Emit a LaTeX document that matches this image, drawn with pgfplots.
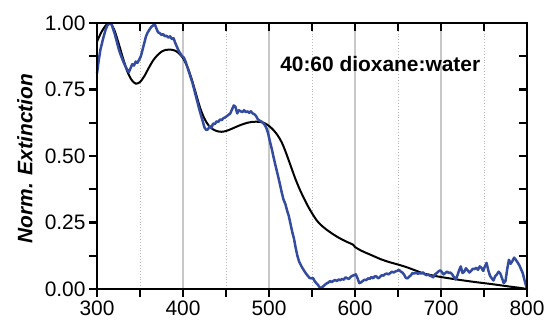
\documentclass[border=0pt]{standalone}
\usepackage{pgfplots}
\pgfplotsset{compat=1.18}
\usepackage{fontspec}
\setmainfont{Liberation Sans}
\definecolor{specblue}{RGB}{52,76,160}
\definecolor{gridgray}{RGB}{200,200,200}
\begin{document}
\begin{tikzpicture}
\begin{axis}[
  scale only axis, width=430bp, height=266bp,
  xmin=300, xmax=800, ymin=0, ymax=1,
  clip=false,
  xtick={300,400,...,800}, minor xtick={350,450,...,750},
  ytick={0,0.25,0.5,0.75,1}, minor ytick={0.125,0.375,0.625,0.875},
  xtick align=outside, ytick align=outside,
  xtick pos=bottom, ytick pos=left,
  major tick length=8bp, minor tick length=8bp,
  major tick style={draw=black, line width=2.4bp},
  minor tick style={draw=black, line width=2.4bp},
  axis line style={draw=black, line width=2.4bp},
  at={(0,0)}, anchor=south west,
  xmajorgrids, xminorgrids,
  major grid style={line width=1.2bp, gridgray, solid},
  minor grid style={line width=0.9bp, gray!55, dotted},
  /pgf/number format/assume math mode=true,
  ticklabel style={font=\fontsize{21}{25}\selectfont},
  yticklabel style={/pgf/number format/fixed, /pgf/number format/fixed zerofill, /pgf/number format/precision=2},
  xticklabel style={/pgf/number format/1000 sep={}},
  ylabel={Norm. Extinction},
  ylabel style={font=\bfseries\itshape\fontsize{21}{25}\selectfont, at={(axis description cs:-0.1674,0.49)}, anchor=center},
]
\addplot[black, line width=2bp, smooth] coordinates {
(300,0.93) (305,0.965) (310,0.99) (315,1.0) (320,0.975) (325,0.925) (330,0.87) (335,0.82)
(340,0.787) (345,0.772) (350,0.778) (355,0.80) (360,0.83) (365,0.858) (370,0.878) (375,0.892)
(380,0.899) (385,0.90) (390,0.897) (395,0.887) (400,0.868) (405,0.836) (410,0.79) (415,0.735)
(420,0.68) (425,0.64) (430,0.614) (435,0.60) (440,0.593) (445,0.591) (450,0.594) (455,0.60)
(460,0.607) (465,0.614) (470,0.62) (475,0.625) (480,0.628) (485,0.629) (490,0.628) (495,0.623)
(500,0.613) (505,0.598) (510,0.578) (515,0.55) (520,0.51) (525,0.465) (530,0.42) (535,0.38)
(540,0.345) (545,0.313) (550,0.285) (555,0.26) (560,0.242) (565,0.228) (570,0.216) (575,0.205)
(580,0.195) (585,0.186) (590,0.178) (595,0.171) (598,0.166) (600,0.158) (605,0.148) (610,0.140)
(620,0.126) (630,0.112) (640,0.101) (650,0.092) (660,0.082) (670,0.07) (680,0.058) (690,0.051)
(700,0.045) (720,0.035) (740,0.026) (760,0.018) (780,0.009) (790,0.005) (800,0.0)
};
\addplot[specblue, line width=2.5bp, line join=round] coordinates {
(300,0.81) (302,0.86) (304,0.90) (307,0.94) (310,0.975) (312,0.99) (315,1.0) (317,0.995)
(319,0.975) (321,0.955) (323,0.93) (325,0.905) (327,0.885) (329,0.868) (331,0.852) (333,0.838)
(335,0.825) (337,0.815) (339,0.83) (341,0.845) (343,0.84) (345,0.855) (347,0.85) (349,0.862)
(351,0.875) (353,0.9) (355,0.925) (357,0.95) (359,0.965) (361,0.975) (363,0.985) (365,0.99)
(367,0.997) (369,0.98) (371,0.965) (373,0.962) (375,0.955) (377,0.958) (379,0.95) (381,0.952)
(383,0.945) (385,0.95) (387,0.94) (389,0.943) (391,0.925) (393,0.91) (395,0.895) (397,0.885)
(399,0.875) (401,0.87) (403,0.855) (405,0.835) (407,0.815) (409,0.795) (411,0.775) (413,0.75)
(415,0.725) (417,0.7) (419,0.675) (421,0.652) (423,0.63) (425,0.607) (427,0.598) (429,0.6)
(431,0.612) (433,0.605) (435,0.622) (437,0.62) (439,0.63) (441,0.628) (443,0.637) (445,0.635)
(447,0.642) (449,0.645) (451,0.65) (453,0.655) (455,0.66) (457,0.675) (459,0.69) (461,0.685)
(463,0.66) (465,0.672) (467,0.668) (469,0.665) (471,0.672) (473,0.665) (475,0.668) (477,0.662)
(479,0.668) (481,0.66) (483,0.657) (485,0.65) (487,0.638) (489,0.633) (491,0.63) (493,0.625)
(495,0.617) (497,0.605) (499,0.585) (501,0.555) (503,0.53) (505,0.5) (507,0.472) (509,0.445)
(511,0.418) (513,0.39) (515,0.36) (517,0.335) (519,0.32) (521,0.295) (523,0.275) (525,0.245)
(527,0.215) (529,0.19) (531,0.155) (533,0.125) (535,0.103) (537,0.09) (539,0.078) (541,0.068)
(543,0.058) (545,0.05) (547,0.042) (549,0.04) (551,0.042) (553,0.03) (555,0.022) (557,0.015)
(559,0.006) (561,0.004) (563,0.01) (565,0.016) (567,0.021) (569,0.024) (571,0.03) (573,0.026)
(575,0.031) (577,0.034) (579,0.03) (581,0.036) (583,0.033) (585,0.038) (587,0.035) (589,0.044)
(591,0.04) (593,0.038) (595,0.046) (597,0.05) (599,0.052) (601,0.055) (603,0.04) (605,0.022)
(607,0.025) (609,0.03) (611,0.035) (613,0.033) (615,0.04) (617,0.038) (619,0.045) (621,0.04)
(623,0.048) (625,0.047) (627,0.04) (629,0.045) (631,0.052) (633,0.05) (635,0.056) (637,0.058)
(639,0.055) (641,0.06) (643,0.065) (645,0.062) (647,0.066) (649,0.068) (651,0.072) (653,0.066)
(655,0.062) (657,0.055) (659,0.042) (661,0.04) (663,0.046) (665,0.052) (667,0.06) (669,0.058)
(671,0.062) (673,0.057) (675,0.06) (677,0.058) (679,0.063) (681,0.056) (683,0.052) (685,0.055)
(687,0.05) (689,0.048) (691,0.044) (693,0.055) (695,0.06) (697,0.066) (699,0.07) (701,0.064)
(703,0.055) (705,0.06) (707,0.066) (709,0.06) (711,0.062) (713,0.055) (715,0.045) (717,0.036)
(719,0.05) (721,0.07) (723,0.085) (725,0.06) (727,0.065) (729,0.078) (731,0.07) (733,0.062)
(735,0.068) (737,0.076) (739,0.075) (741,0.08) (743,0.072) (745,0.085) (747,0.08) (749,0.068)
(751,0.085) (753,0.098) (755,0.07) (757,0.05) (759,0.04) (761,0.032) (763,0.048) (765,0.055)
(767,0.065) (769,0.058) (771,0.04) (773,0.022) (775,0.03) (777,0.075) (779,0.11) (781,0.095)
(783,0.105) (785,0.118) (787,0.11) (789,0.1) (791,0.09) (793,0.075) (795,0.06) (797,0.035)
(799,0.01) (800,0.0)
};
\node[anchor=west, font=\bfseries\fontsize{21}{25}\selectfont] at (axis cs:509,0.846) {40:60 dioxane:water};
% frame and tick marks of the axis
\draw[black, line width=2.4bp, line join=miter] (rel axis cs:0,0) rectangle (rel axis cs:1,1);
\pgfplotsinvokeforeach{300,350,400,450,500,550,600,650,700,750,800}{
  \draw[black, line width=2.4bp] (axis cs:#1,0) -- ([yshift=-8bp]axis cs:#1,0);
  \draw[black, line width=2.4bp] (axis cs:#1,1) -- ([yshift=-8bp]axis cs:#1,1);
}
\pgfplotsinvokeforeach{0,0.125,0.25,0.375,0.5,0.625,0.75,0.875,1}{
  \draw[black, line width=2.4bp] (axis cs:300,#1) -- ([xshift=-8bp]axis cs:300,#1);
  \draw[black, line width=2.4bp] (axis cs:800,#1) -- ([xshift=-8bp]axis cs:800,#1);
}
\end{axis}
\path (-97bp,-35bp) rectangle (452bp,289bp);
\end{tikzpicture}
\end{document}
